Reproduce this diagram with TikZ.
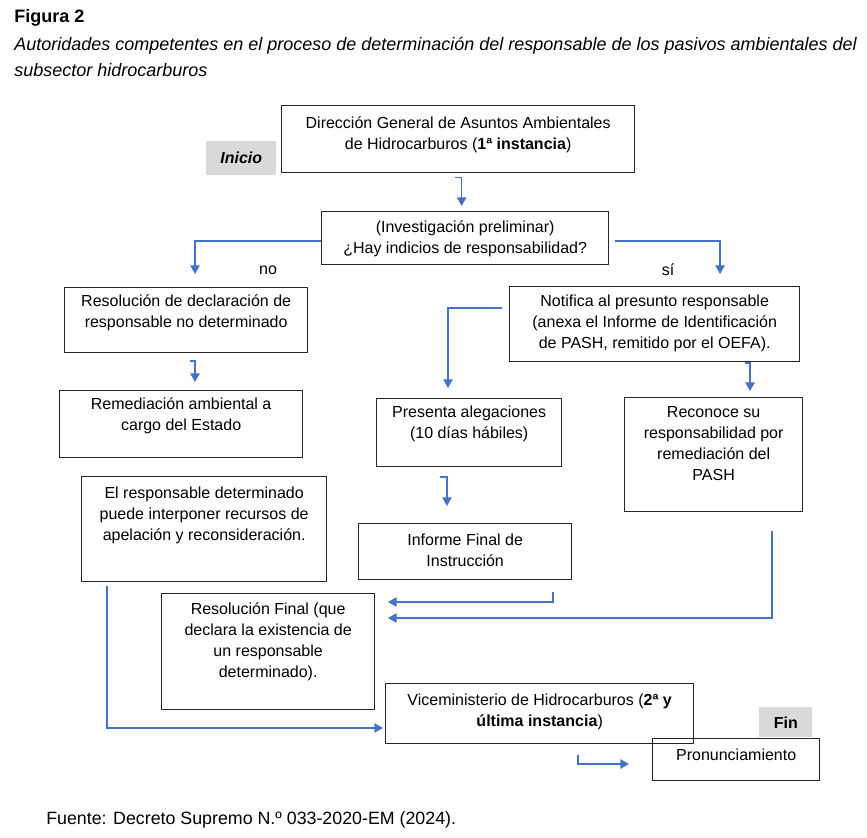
\documentclass[tikz,border=0pt]{standalone}
\usepackage{fontspec}
\setmainfont{Liberation Sans}
\usetikzlibrary{arrows.meta,calc}
\definecolor{cblue}{HTML}{4472C4}
\definecolor{cgray}{HTML}{D9D9D9}
\begin{document}
\begin{tikzpicture}[x=0.75pt,y=-0.75pt,
  box/.style={draw=black!85, line width=1pt, inner sep=0pt, anchor=north west},
  graybox/.style={fill=cgray, inner sep=0pt, anchor=north west},
  txt/.style={font=\fontsize{12}{15.75}\selectfont, align=center, inner sep=0pt, anchor=north},
  conn/.style={draw=cblue, line width=1.1pt, -{Triangle[length=6.5pt,width=7pt]}},
  captxt/.style={font=\fontsize{13.5}{16}\selectfont, inner sep=0pt, anchor=base west}]
\useasboundingbox (0,0) rectangle (867,838);

% caption
\node[captxt] (fig) at (14,23) {\bfseries Figura 2};
\node[captxt] (cap1) at (14,51) {\itshape Autoridades competentes en el proceso de determinación del responsable de los pasivos ambientales del};
\node[captxt] (cap2) at (14,77) {\itshape subsector hidrocarburos};
\node[captxt, font=\fontsize{13.35}{16}\selectfont] (src) at (46,824) {Fuente: Decreto Supremo N.º 033-2020-EM (2024).};

% boxes
\node[box, minimum width=353*0.75pt, minimum height=67*0.75pt] (dg) at (281,105) {};
\node[txt] (dgt) at ($(dg.north)+(0,8.3)$) {\strut Dirección General de Asuntos Ambientales\\de Hidrocarburos (\textbf{1ª instancia})};

\node[graybox, minimum width=70*0.75pt, minimum height=34*0.75pt] (ini) at (206,141) {};
\node[font=\fontsize{12}{14}\selectfont\bfseries\itshape, inner sep=0pt] (init) at (ini.center) {Inicio};

\node[box, minimum width=287*0.75pt, minimum height=53*0.75pt] (inv) at (321,211) {};
\node[txt] (invt) at ($(inv.north)+(0,6.3)$) {\strut (Investigación preliminar)\\¿Hay indicios de responsabilidad?};

\node[box, minimum width=243*0.75pt, minimum height=65*0.75pt] (rdd) at (64,287) {};
\node[txt] (rddt) at ($(rdd.north)+(0,4.3)$) {\strut Resolución de declaración de\\responsable no determinado};

\node[box, minimum width=290*0.75pt, minimum height=75*0.75pt] (noti) at (509,286) {};
\node[txt] (notit) at ($(noti.north)+(0,5.3)$) {\strut Notifica al presunto responsable\\(anexa el Informe de Identificación\\de PASH, remitido por el OEFA).};

\node[box, minimum width=243*0.75pt, minimum height=67*0.75pt] (rem) at (59,390) {};
\node[txt] (remt) at ($(rem.north)+(0,4.3)$) {\strut Remediación ambiental a\\cargo del Estado};

\node[box, minimum width=185*0.75pt, minimum height=68*0.75pt] (pres) at (376,398) {};
\node[txt] (prest) at ($(pres.north)+(0,4.3)$) {\strut Presenta alegaciones\\(10 días hábiles)};

\node[box, minimum width=178*0.75pt, minimum height=114*0.75pt] (rec) at (624,397) {};
\node[txt] (rect) at ($(rec.north)+(0,5.3)$) {\strut Reconoce su\\responsabilidad por\\remediación del\\PASH};

\node[box, minimum width=245*0.75pt, minimum height=105*0.75pt] (resp) at (81,476) {};
\node[txt] (respt) at ($(resp.north)+(0,7.3)$) {\strut El responsable determinado\\puede interponer recursos de\\apelación y reconsideración.};

\node[box, minimum width=213*0.75pt, minimum height=56*0.75pt] (inf) at (358,523) {};
\node[txt] (inft) at ($(inf.north)+(0,7.3)$) {\strut Informe Final de\\Instrucción};

\node[box, minimum width=213*0.75pt, minimum height=116*0.75pt] (rf) at (161,593) {};
\node[txt] (rft) at ($(rf.north)+(0,6.3)$) {\strut Resolución Final (que\\declara la existencia de\\un responsable\\determinado).};

\node[box, minimum width=308*0.75pt, minimum height=60*0.75pt] (vice) at (385,683) {};
\node[txt] (vicet) at ($(vice.north)+(0,7.3)$) {\strut Viceministerio de Hidrocarburos (\textbf{2ª y}\\\textbf{última instancia})};

\node[graybox, minimum width=53*0.75pt, minimum height=30*0.75pt] (fin) at (759,707) {};
\node[font=\fontsize{12}{14}\selectfont\bfseries, inner sep=0pt] (fint) at (fin.center) {Fin};

\node[box, minimum width=167*0.75pt, minimum height=42*0.75pt] (pron) at (652,738) {};
\node[txt] (pront) at ($(pron.north)+(0,7.3)$) {\strut Pronunciamiento};

% labels
\node[font=\fontsize{12}{14}\selectfont, inner sep=0pt] (no) at (268,270) {no};
\node[font=\fontsize{12}{14}\selectfont, inner sep=0pt] (si) at (668,270) {sí};

% connectors
\coordinate (a1s) at ($(dg.south)+(-3,4)$);
\coordinate (a1e) at ($(inv.north)+(-3.5,-5)$);
\draw[conn] (a1s) -- (a1s -| a1e) -- (a1e);

\coordinate (nos) at (inv.west |- 0,241);
\coordinate (noe) at (195,274);
\draw[conn] (nos) -| (noe);

\coordinate (sis) at ($(inv.east |- 0,241)+(6,0)$);
\coordinate (sie) at (720,274);
\draw[conn] (sis) -| (sie);

\coordinate (a2s) at (190,361);
\coordinate (a2e) at (195,382);
\draw[conn] (a2s) -- (a2s -| a2e) -- (a2e);

\coordinate (a3s) at (502,308);
\coordinate (a3e) at (448,388);
\draw[conn] (a3s) -| (a3e);

\coordinate (a4s) at (745,363);
\coordinate (a4e) at (750,391);
\draw[conn] (a4s) -- (a4s -| a4e) -- (a4e);

\coordinate (a5s) at (440,477);
\coordinate (a5e) at (447,506);
\draw[conn] (a5s) -- (a5s -| a5e) -- (a5e);

\coordinate (a6s) at (553,592);
\coordinate (a6e) at (388,602);
\draw[conn] (a6s) |- (a6e);

\coordinate (a7s) at (772,531);
\coordinate (a7e) at (388,618);
\draw[conn] (a7s) |- (a7e);

\coordinate (a8s) at (107,586);
\coordinate (a8e) at (383,728);
\draw[conn] (a8s) |- (a8e);

\coordinate (a9s) at (578,755);
\coordinate (a9e) at (629,764);
\draw[conn] (a9s) |- (a9e);
\end{tikzpicture}
\end{document}
